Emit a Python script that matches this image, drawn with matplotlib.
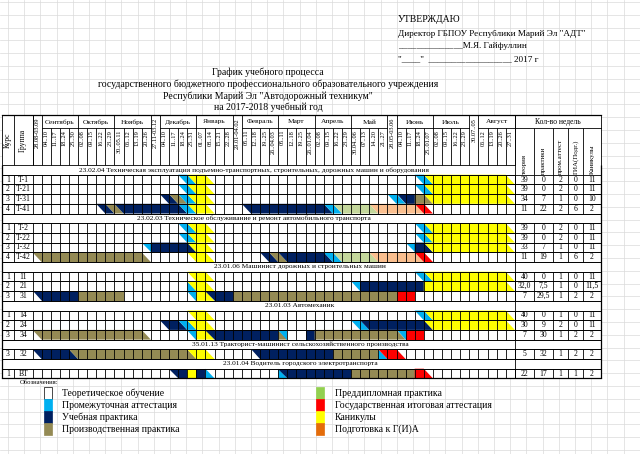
import numpy as np
import matplotlib.pyplot as plt
import matplotlib.transforms as mtransforms
from matplotlib.patches import Polygon, Rectangle

plt.rcParams['font.family'] = ['Liberation Serif', 'DejaVu Serif']

# ---------------- data ----------------
months = ['Сентябрь', 'Октябрь', 'Ноябрь', 'Декабрь', 'Январь', 'Февраль',
          'Март', 'Апрель', 'Май', 'Июнь', 'Июль', 'Август']
month_first_week = [1, 5, 9, 14, 18, 23, 27, 31, 35, 40, 44, 49]
week_labels = ['28.08-03.09',
               '04..10', '11..17', '18..24', '25..30',
               '02..08', '09..15', '16..22', '23..29',
               '30..05.11', '06..12', '13..19', '20..26',
               '27.11-03.12',
               '04..10', '11..17', '18..24', '25..31',
               '01..07', '08..14', '15..21', '22..28',
               '29.01-04.02',
               '05..11', '12..18', '19..25', '26..04.03',
               '05..11', '12..18', '19..25', '26..01.04',
               '02..08', '09..15', '16..22', '23..29',
               '30.04..06', '07..13', '14..20', '21..27',
               '28.05-03.06',
               '04..10', '11..17', '18..24', '25..01.07',
               '02..08', '09..15', '16..22', '23..29',
               '30.07..05',
               '06..12', '13..19', '20..26', '27..31']

section_titles = [
    '23.02.04 Техническая эксплуатация подъемно-транспортных, строительных, дорожных машин и оборудования',
    '23.02.03 Техническое обслуживание и ремонт автомобильного транспорта',
    '23.01.06 Машинист дорожных и строительных машин',
    '23.01.03 Автомеханик',
    '35.01.13 Тракторист-машинист сельскохозяйственного производства',
    '23.01.04 Водитель городского электротранспорта']
section_sizes = [4, 4, 3, 3, 1, 1]

courses = ['1', '2', '3', '4', '1', '2', '3', '4', '1', '2', '3', '1', '2', '3', '3', '1']
groups = ['Т-1', 'Т-21', 'Т-31', 'Т-41', 'Т-2', 'Т-22', 'Т-32', 'Т-42',
          '11', '21', '31', '14', '24', '34', '32', 'ВТ']

# weeks: (start, end, kind); theory (white) is everything else
t1 = [(16.5, 17.5, 'pa'), (17.5, 19.5, 'vac'), (42.5, 43.5, 'pa'), (43.5, 52.5, 'vac')]
t21 = [(16.5, 17.5, 'pa'), (17.5, 19.5, 'vac'), (42.5, 43.5, 'pa'), (43.5, 52.5, 'vac')]
t31 = [(14.5, 15.5, 'up'), (15.5, 16.5, 'pp'), (16.5, 17.5, 'pa'), (17.5, 19.5, 'vac'),
       (39.5, 40.5, 'pa'), (40.5, 42, 'up'), (42, 43.5, 'pp'), (43.5, 52.5, 'vac')]
t41 = [(7.5, 8.5, 'up'), (8.5, 9.5, 'pp'), (9.5, 16.5, 'up'), (16.5, 17.5, 'pa'),
       (17.5, 19.5, 'vac'), (23.5, 32.5, 'up'), (32.5, 33.5, 'pa'), (33.5, 37.5, 'pd'),
       (37.5, 42.5, 'prep'), (42.5, 43.5, 'gia')]
t2 = [(16.5, 17.5, 'pa'), (17.5, 19.5, 'vac'), (42.5, 43.5, 'pa'), (43.5, 52.5, 'vac')]
t22 = [(16.5, 17.5, 'pa'), (17.5, 19.5, 'vac'), (42.5, 43.5, 'pa'), (43.5, 52.5, 'vac')]
t32 = [(12.5, 13, 'pa'), (13, 17.5, 'up'), (17.5, 19.5, 'vac'),
       (41.5, 42, 'pa'), (42, 43.5, 'up'), (43.5, 52.5, 'vac')]
t42 = [(0.5, 12.5, 'pp'), (17.5, 19.5, 'vac'), (25.5, 26.5, 'up'), (26.5, 27.5, 'pp'),
       (27.5, 32.5, 'up'), (32.5, 33.5, 'pa'), (33.5, 37.5, 'pd'), (37.5, 42.5, 'prep'),
       (42.5, 43.5, 'gia')]
g11 = [(17.5, 19.5, 'vac'), (42.5, 43.5, 'pa'), (43.5, 52.5, 'vac')]
g21 = [(17, 17.5, 'pa'), (17.5, 19.5, 'vac'), (35.5, 36, 'pa'), (36, 43, 'up'), (43, 52.5, 'vac')]
g31 = [(0.5, 5, 'up'), (5, 10, 'pp'), (17.5, 18, 'pa'), (18, 19.5, 'vac'),
       (19.5, 22, 'up'), (22, 40, 'pp'), (40, 42, 'gia')]
g14 = [(17.5, 19.5, 'vac'), (42.5, 43.5, 'pa'), (43.5, 52.5, 'vac')]
g24 = [(14.5, 16.5, 'up'), (16.5, 17.5, 'pa'), (17.5, 19.5, 'vac'),
       (35.5, 36.5, 'pa'), (36.5, 43.5, 'up'), (43.5, 52.5, 'vac')]
g34 = [(0.5, 12.5, 'pp'), (17.5, 18, 'pa'), (18, 19.5, 'vac'), (19.5, 27, 'up'),
       (27, 27.5, 'pp'), (27.5, 28, 'pa'), (30, 31, 'up'), (31, 40.5, 'pp'),
       (40.5, 41, 'pa'), (41, 43, 'gia')]
g32 = [(0.5, 4.5, 'up'), (4.5, 17.5, 'pp'), (17.5, 19.5, 'vac'), (24.5, 33, 'up'),
       (33, 38, 'pp'), (38, 38.5, 'pa'), (38.5, 40.5, 'gia')]
gvt = [(15.5, 17, 'up'), (17, 18, 'vac'), (18, 19, 'up'), (19, 19.5, 'pa'),
       (27, 27.5, 'pa'), (27.5, 35, 'up'), (35, 42, 'pp'), (42, 43.5, 'gia')]
schedule = [t1, t21, t31, t41, t2, t22, t32, t42, g11, g21, g31, g14, g24, g34, g32, gvt]

stat_headers = ['теория', 'практики', 'пром.аттест', 'ГИА(Подг.)', 'Каникулы']
weeks_theory = ['39', '39', '34', '11', '39', '39', '33', '11', '40', '32,0', '7', '40', '30', '7', '5', '22']
weeks_practice = ['0', '0', '7', '22', '0', '0', '7', '19', '0', '7,5', '29,5', '0', '9', '30', '32', '17']
weeks_pa = ['2', '2', '1', '2', '2', '2', '1', '1', '1', '1', '1', '1', '2', '1', '1', '1']
weeks_gia = ['0', '0', '0', '6', '0', '0', '0', '6', '0', '0', '2', '0', '0', '2', '2', '1']
weeks_vac = ['11', '11', '10', '2', '11', '11', '11', '2', '11', '11,5', '2', '11', '11', '2', '2', '2']

kind_colors = {'pa': '#00B0F0', 'up': '#002060', 'pp': '#948A54', 'pd': '#C4D79B',
               'gia': '#FF0000', 'vac': '#FFFF00', 'prep': '#FABF8F'}

legend_left = ['Теоретическое обучение', 'Промежуточная аттестация',
               'Учебная практика', 'Производственная практика']
legend_left_colors = ['#FFFFFF', '#00B0F0', '#002060', '#948A54']
legend_right = ['Преддипломная практика', 'Государственная итоговая аттестация',
                'Каникулы', 'Подготовка к Г(И)А']
legend_right_colors = ['#92D050', '#FF0000', '#FFFF00', '#E46C0A']

# ---------------- layout ----------------
X0, CW = 32.5, 9.1     # pixel x of week 0, width of a week column
Y0, RH = 165.0, 9.7    # pixel y of first body row, row height


def wx(px):
    return (px - X0) / CW


def ry(py):
    return (py - Y0) / RH


fig = plt.figure(figsize=(6.4, 4.54), dpi=100)
ax = fig.add_axes([0, 0, 1, 1])
ax.set_xlim(wx(0), wx(640))
ax.set_ylim(ry(454), ry(0))
ax.axis('off')
pix = mtransforms.Affine2D().scale(1 / 640, -1 / 454).translate(0, 1) + fig.transFigure

LINE = 'black'
LW = 0.6

# excel background grid
for gx in np.arange(8, 640, 16.2):
    ax.plot([wx(gx)] * 2, [ry(0), ry(454)], color='#dadada', lw=0.5, zorder=0)
for gy in np.arange(2, 454, 12.8):
    ax.plot([wx(0), wx(640)], [ry(gy)] * 2, color='#dadada', lw=0.5, zorder=0)

n_weeks = len(week_labels)
LX, KG = wx(2), wx(14)
num_edges = [n_weeks, 55.1, 57.2, 58.85, 60.5, 62.45]
RX = num_edges[-1]
H_TOP, H_MID = ry(115), ry(128)

# row layout
title_rows, data_rows = [], []
r = 0
for n in section_sizes:
    title_rows.append(r)
    r += 1
    for k in range(n):
        data_rows.append(r)
        r += 1
n_rows = r

ax.add_patch(Rectangle((LX, H_TOP), RX - LX, n_rows - H_TOP, fc='white', ec='none', zorder=1))


def run_poly(s, e, row):
    hs, he = (s % 1) == 0.5, (e % 1) == 0.5
    st, sb = (s - 0.5, s + 0.5) if hs else (s, s)
    et, eb = (e - 0.5, e + 0.5) if he else (e, e)
    return [(st, row), (et, row), (eb, row + 1), (sb, row + 1)]


for row, runs in zip(data_rows, schedule):
    for s, e, kind in runs:
        ax.add_patch(Polygon(run_poly(s, e, row), closed=True, fc=kind_colors[kind],
                             ec='none', lw=0, zorder=2))

# ---- header ----
ax.plot([LX, RX], [H_TOP] * 2, color=LINE, lw=0.9, zorder=4)
ax.vlines([LX, KG, 0], H_TOP, 0, color=LINE, lw=LW, zorder=4)
group_bounds = set()
for m0 in month_first_week:
    group_bounds.update([m0, m0 + 4])
    ax.plot([m0, m0 + 4], [H_MID] * 2, color=LINE, lw=LW, zorder=4)
group_bounds.update([0, n_weeks])
for b in range(n_weeks + 1):
    ax.vlines(b, H_TOP if b in group_bounds else H_MID, 0, color=LINE, lw=LW, zorder=4)
for name, m0 in zip(months, month_first_week):
    ax.text(m0 + 2, ry(122), name, ha='center', va='center', fontsize=5.3, zorder=5)
for i, lab in enumerate(week_labels):
    in_month = any(m0 <= i < m0 + 4 for m0 in month_first_week)
    ax.text(i + 0.5, H_MID + 0.2 if in_month else ry(118), lab, rotation=90,
            ha='center', va='top', fontsize=4.6, zorder=5)
ax.text((LX + KG) / 2, ry(140), 'Курс', rotation=90, ha='center', va='center', fontsize=5.5, zorder=5)
ax.text(KG / 2, ry(140), 'Группа', rotation=90, ha='center', va='center', fontsize=5.5, zorder=5)

ax.plot([num_edges[0], RX], [H_MID] * 2, color=LINE, lw=LW, zorder=4)
ax.text((num_edges[0] + RX) / 2, ry(122), 'Кол-во недель', ha='center', va='center', fontsize=5.5, zorder=5)
ax.vlines(num_edges[1:-1], H_MID, 1, color=LINE, lw=LW, zorder=4)
ax.vlines([num_edges[0], RX], H_TOP, n_rows, color=LINE, lw=LW, zorder=4)
for k, lab in enumerate(stat_headers):
    ax.text((num_edges[k] + num_edges[k + 1]) / 2, ry(174), lab, rotation=90,
            ha='center', va='bottom', fontsize=5, zorder=5)

# ---- body ----
for k, (row, title) in enumerate(zip(title_rows, section_titles)):
    right = n_weeks if k == 0 else RX
    ax.plot([LX, right], [row] * 2, color=LINE, lw=LW, zorder=4)
    ax.plot([LX, right], [row + 1] * 2, color=LINE, lw=LW, zorder=4)
    cx = wx(254) if k < 2 else wx(300)
    ax.text(cx, row + 0.5, title, ha='center', va='center', fontsize=5.3, zorder=5)
ax.vlines(LX, 0, n_rows, color=LINE, lw=0.9, zorder=4)
ax.vlines(RX, 0, n_rows, color=LINE, lw=0.9, zorder=4)

stats = [weeks_theory, weeks_practice, weeks_pa, weeks_gia, weeks_vac]
for j, row in enumerate(data_rows):
    ax.plot([LX, RX], [row + 1] * 2, color=LINE, lw=LW, zorder=4)
    ax.plot([LX, RX], [row] * 2, color=LINE, lw=LW, zorder=4)
    ax.vlines(list(range(n_weeks + 1)) + [KG] + num_edges, row, row + 1, color=LINE, lw=LW, zorder=4)
    ax.text((LX + KG) / 2, row + 0.5, courses[j], ha='center', va='center', fontsize=5.5, zorder=5)
    ax.text(KG / 2, row + 0.5, groups[j], ha='center', va='center', fontsize=5.5, zorder=5)
    for k, col in enumerate(stats):
        ax.text((num_edges[k] + num_edges[k + 1]) / 2, row + 0.5, col[j],
                ha='center', va='center', fontsize=5.5, zorder=5)
ax.plot([LX, RX], [n_rows] * 2, color=LINE, lw=0.9, zorder=4)

# ---- approval block and title ----
for txt, y, fs in [('УТВЕРЖДАЮ', 19, 7), ('Директор ГБПОУ Республики Марий Эл "АДТ"', 34, 6.6),
                   ('______________М.Я. Гайфуллин', 46, 6.6),
                   ('"____"  __________________ 2017 г', 59, 6.6)]:
    ax.text(398, y, txt, transform=pix, ha='left', va='center', fontsize=fs)
for txt, y in [('График учебного процесса', 72),
               ('государственного бюджетного профессионального образовательного учреждения', 84),
               ('Республики Марий Эл "Автодорожный техникум"', 96),
               ('на 2017-2018 учебный год', 107)]:
    ax.text(268, y, txt, transform=pix, ha='center', va='center', fontsize=7)

# ---- legend ----
ax.text(20, 383, 'Обозначения:', transform=pix, ha='left', va='center', fontsize=4.8)
for k, (lab, c) in enumerate(zip(legend_left, legend_left_colors)):
    y = 387 + 12 * k
    ax.add_patch(Rectangle((44, y), 8, 12, transform=pix, fc=c, ec='black' if k == 0 else c, lw=0.5))
    ax.text(62, y + 6, lab, transform=pix, ha='left', va='center', fontsize=7)
for k, (lab, c) in enumerate(zip(legend_right, legend_right_colors)):
    y = 387 + 12 * k
    ax.add_patch(Rectangle((316, y), 8, 12, transform=pix, fc=c, ec=c, lw=0.5))
    ax.text(335, y + 6, lab, transform=pix, ha='left', va='center', fontsize=7)

fig.savefig('out.png', dpi=100)
